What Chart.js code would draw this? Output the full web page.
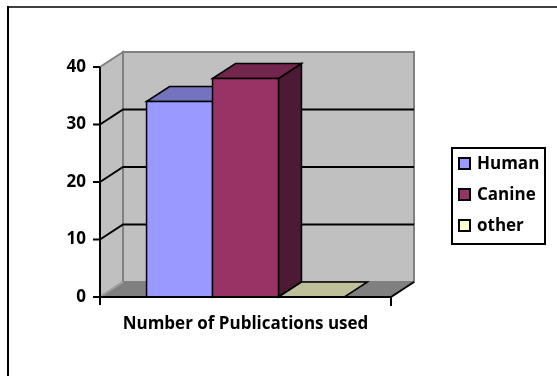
<!DOCTYPE html>
<html>
<head>
<meta charset="utf-8">
<script src="https://cdn.jsdelivr.net/npm/chart.js@4/dist/chart.umd.min.js"></script>
<style>
  html, body { margin: 0; padding: 0; background: #fff; }
  #wrap { position: relative; width: 557px; height: 376px; }
  canvas { display: block; }
</style>
</head>
<body>
<div id="wrap"><canvas id="c" width="557" height="376"></canvas></div>
<script>
// ---- data ----
const categories = ['Number of Publications used'];
const seriesNames = ['Human', 'Canine', 'other'];
const humanValues = [34];
const canineValues = [38];
const otherValues = [0];
const yTicks = [0, 10, 20, 30, 40];

const frontColors = ['#9999FF', '#993366', '#FFFFCC'];
const topColors   = ['#7373BF', '#73264D', '#BFBF99'];
const sideColors  = ['#4D4D80', '#4D1A33', '#80806A'];

const DX = 23, DY = -15;
const FONT = '"Open Sans", "DejaVu Sans", sans-serif';

function poly(ctx, pts, fill, stroke, lw) {
  ctx.beginPath();
  ctx.moveTo(pts[0][0], pts[0][1]);
  for (let i = 1; i < pts.length; i++) ctx.lineTo(pts[i][0], pts[i][1]);
  ctx.closePath();
  if (fill) { ctx.fillStyle = fill; ctx.fill(); }
  if (stroke) { ctx.strokeStyle = stroke; ctx.lineWidth = lw || 1; ctx.stroke(); }
}
function line(ctx, x1, y1, x2, y2, color, lw) {
  ctx.beginPath(); ctx.moveTo(x1, y1); ctx.lineTo(x2, y2);
  ctx.strokeStyle = color; ctx.lineWidth = lw; ctx.stroke();
}

const walls3d = {
  id: 'walls3d',
  beforeDraw(chart) {
    const ctx = chart.ctx;
    ctx.save();
    line(ctx, 7, 7, 557, 7, '#404040', 2);
    line(ctx, 8, 6, 8, 376, '#000000', 2);
    ctx.restore();
  },
  beforeDatasetsDraw(chart) {
    const ctx = chart.ctx;
    const { left, right, top, bottom } = chart.chartArea;
    const y = chart.scales.y;
    ctx.save();
    ctx.lineJoin = 'miter';
    poly(ctx, [[left + DX, top + DY], [right + DX, top + DY], [right + DX, bottom + DY], [left + DX, bottom + DY]], '#C0C0C0', '#808080', 2);
    poly(ctx, [[left, top], [left + DX, top + DY], [left + DX, bottom + DY], [left, bottom]], '#C0C0C0', '#808080', 2);
    poly(ctx, [[left, bottom], [left + DX, bottom + DY], [right + DX, bottom + DY], [right, bottom]], '#808080', '#808080', 1);
    line(ctx, left, bottom, left + DX, bottom + DY, '#A0A0A0', 1.5);
    yTicks.forEach(v => {
      if (v === yTicks[0] || v === yTicks[yTicks.length - 1]) return;
      const py = y.getPixelForValue(v);
      ctx.beginPath();
      ctx.moveTo(left, py);
      ctx.lineTo(left + DX, py + DY);
      ctx.lineTo(right + DX, py + DY);
      ctx.strokeStyle = '#000'; ctx.lineWidth = 2; ctx.stroke();
    });
    ctx.restore();
  },
  afterDatasetsDraw(chart) {
    const ctx = chart.ctx;
    const { left, right, top, bottom } = chart.chartArea;
    const y = chart.scales.y;
    ctx.save();
    ctx.lineJoin = 'miter';
    chart.data.datasets.forEach((ds, i) => {
      const meta = chart.getDatasetMeta(i);
      meta.data.forEach(el => {
        const p = el.getProps(['x', 'y', 'base', 'width'], true);
        const x0 = p.x - p.width / 2, x1 = p.x + p.width / 2;
        const yt = Math.min(p.y, p.base), yb = Math.max(p.y, p.base);
        if (yb - yt > 0.5) {
          poly(ctx, [[x1, yt], [x1 + DX, yt + DY], [x1 + DX, yb + DY], [x1, yb]], sideColors[i], '#000', 1.5);
        }
        poly(ctx, [[x0, yt], [x0 + DX, yt + DY], [x1 + DX, yt + DY], [x1, yt]], topColors[i], '#000', 1.5);
        if (yb - yt > 0.5) {
          poly(ctx, [[x0, yt], [x1, yt], [x1, yb], [x0, yb]], frontColors[i], '#000', 1.5);
        }
      });
    });
    line(ctx, left, top, left, bottom + 1, '#000', 2);
    yTicks.forEach(v => {
      const py = y.getPixelForValue(v);
      line(ctx, left - 7, py, left, py, '#000', 2);
    });
    line(ctx, left - 7, bottom, right, bottom, '#000', 2);
    line(ctx, left, bottom, left, bottom + 8, '#000', 2);
    line(ctx, right, bottom - 1, right, bottom + 9, '#000', 2);
    line(ctx, right, bottom, right + DX, bottom + DY, '#000', 2);
    ctx.restore();
  },
  afterDraw(chart) {
    const ctx = chart.ctx;
    ctx.save();
    const bx = 452, by = 148, bw = 93, bh = 96;
    ctx.strokeStyle = '#000'; ctx.lineWidth = 2;
    ctx.strokeRect(bx, by, bw, bh);
    ctx.font = 'bold 17px ' + FONT;
    ctx.textBaseline = 'middle';
    ctx.textAlign = 'left';
    chart.data.datasets.forEach((ds, i) => {
      const cy = 164 + i * 31;
      ctx.fillStyle = ds.backgroundColor;
      ctx.fillRect(459, cy - 6, 11, 11);
      ctx.strokeStyle = '#000'; ctx.lineWidth = 2;
      ctx.strokeRect(459, cy - 6, 11, 11);
      ctx.fillStyle = '#000';
      ctx.fillText(ds.label, 477, cy);
    });
    ctx.restore();
  }
};

const datasets = [humanValues, canineValues, otherValues].map((vals, i) => ({
  label: seriesNames[i],
  data: vals,
  backgroundColor: frontColors[i],
  borderColor: '#000',
  borderWidth: 0
}));

new Chart(document.getElementById('c'), {
  type: 'bar',
  data: { labels: categories, datasets },
  options: {
    responsive: false,
    animation: false,
    devicePixelRatio: 1,
    layout: { padding: { left: 0, top: 67, right: 166, bottom: 0 } },
    datasets: { bar: { categoryPercentage: 0.68, barPercentage: 1.0 } },
    plugins: { legend: { display: false }, tooltip: { enabled: false } },
    scales: {
      x: {
        grid: { display: false, drawTicks: false },
        border: { display: false },
        ticks: { color: '#000', font: { family: FONT, size: 17, weight: 'bold' }, padding: 17, maxRotation: 0 },
        afterFit(s) { s.height = 79; }
      },
      y: {
        min: 0, max: 40,
        afterBuildTicks(s) { s.ticks = yTicks.map(v => ({ value: v })); },
        grid: { display: false, drawTicks: false },
        border: { display: false },
        ticks: { color: '#000', font: { family: FONT, size: 17, weight: 'bold' }, padding: 14 },
        afterFit(s) { s.width = 100; }
      }
    }
  },
  plugins: [walls3d]
});
</script>
</body>
</html>
